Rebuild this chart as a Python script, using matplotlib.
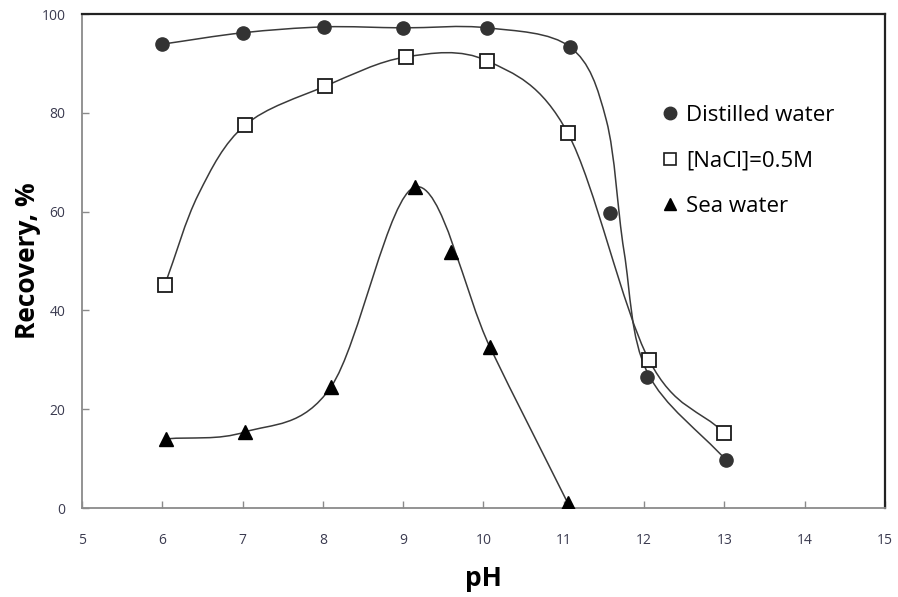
import numpy as np
import matplotlib
matplotlib.use("Agg")
import matplotlib.pyplot as plt
from matplotlib.path import Path
from matplotlib.patches import PathPatch
from matplotlib.lines import Line2D

plt.rcParams['font.family'] = ['Open Sans', 'DejaVu Sans']

# --- measured points ---
ph_distilled = [6.0, 7.0, 8.02, 9.0, 10.05, 11.08, 11.57, 12.04, 13.02]
rec_distilled = [93.9, 96.2, 97.4, 97.2, 97.2, 93.3, 59.7, 26.5, 9.7]

ph_nacl = [6.03, 7.03, 8.03, 9.03, 10.05, 11.05, 12.06, 13.0]
rec_nacl = [45.1, 77.5, 85.4, 91.3, 90.5, 75.9, 30.0, 15.2]

ph_sea = [6.05, 7.03, 8.1, 9.15, 9.6, 10.08, 11.05]
rec_sea = [14.0, 15.4, 24.5, 65.0, 51.8, 32.6, 1.0]

# --- knots of the smoothed trend lines ---
fit_x_distilled = [6.0, 7.0, 8.02, 9.0, 10.05, 11.08, 11.53, 11.75, 12.04, 13.02]
fit_y_distilled = [93.9, 96.2, 97.4, 97.2, 97.2, 93.3, 78.5, 52.0, 27.5, 9.7]

fit_x_nacl = [6.03, 6.45, 7.03, 8.03, 9.03, 10.05, 11.05, 12.06, 13.0]
fit_y_nacl = [45.1, 63.5, 77.5, 85.4, 91.3, 90.5, 75.9, 30.0, 15.2]

fit_x_sea = [6.05, 7.03, 8.1, 9.15, 10.08, 11.05]
fit_y_sea = [14.0, 15.4, 24.5, 65.0, 32.6, 1.0]

legend_labels = ['Distilled water', '[NaCl]=0.5M', 'Sea water']

LINE_COLOR = '#3a3a3a'


def smooth_path(xs, ys):
    # Catmull-Rom segments written as cubic Bezier curves (like spreadsheet smoothing)
    pts = np.column_stack([xs, ys]).astype(float)
    n = len(pts)
    verts = [pts[0]]
    codes = [Path.MOVETO]
    for i in range(n - 1):
        p1 = pts[i]
        p2 = pts[i + 1]
        p0 = pts[i - 1] if i > 0 else 2 * p1 - p2
        p3 = pts[i + 2] if i + 2 < n else 2 * p2 - p1
        c1 = p1 + (p2 - p0) / 6.0
        c2 = p2 - (p3 - p1) / 6.0
        verts += [c1, c2, p2]
        codes += [Path.CURVE4] * 3
    return Path(verts, codes)


fig = plt.figure(figsize=(8.98, 5.97), dpi=100)
ax = fig.add_axes([0.0913, 0.149, 0.8942, 0.8275])

for fx, fy in [(fit_x_distilled, fit_y_distilled),
               (fit_x_nacl, fit_y_nacl),
               (fit_x_sea, fit_y_sea)]:
    ax.add_patch(PathPatch(smooth_path(fx, fy), facecolor='none',
                           edgecolor=LINE_COLOR, linewidth=1.1, zorder=2))

ax.plot(ph_distilled, rec_distilled, linestyle='none', marker='o', markersize=9.5,
        markerfacecolor='#333333', markeredgecolor='#333333', zorder=4)
ax.plot(ph_nacl, rec_nacl, linestyle='none', marker='s', markersize=9.5,
        markerfacecolor='white', markeredgecolor='#1a1a1a', markeredgewidth=1.3, zorder=4)
ax.plot(ph_sea, rec_sea, linestyle='none', marker='^', markersize=10,
        markerfacecolor='black', markeredgecolor='black', zorder=4)

ax.set_xlim(5, 15)
ax.set_ylim(0, 100)
ax.set_xticks(range(5, 16))
ax.set_yticks(range(0, 101, 20))

ax.spines['left'].set_color('#8a8a8a')
ax.spines['bottom'].set_color('#8a8a8a')
ax.spines['left'].set_linewidth(1.3)
ax.spines['bottom'].set_linewidth(1.3)
ax.spines['top'].set_color('#222222')
ax.spines['right'].set_color('#222222')
ax.spines['top'].set_linewidth(1.6)
ax.spines['right'].set_linewidth(1.6)

ax.tick_params(axis='both', direction='in', length=5, width=1, color='#8a8a8a',
               labelsize=10, labelcolor='#3b3b50')
ax.tick_params(axis='x', pad=18)
ax.tick_params(axis='y', pad=12)

ax.set_xlabel('pH', fontsize=19, fontweight='bold', labelpad=12)
ax.set_ylabel('Recovery, %', fontsize=19, fontweight='bold', labelpad=0)

handles = [
    Line2D([], [], linestyle='none', marker='o', markersize=9,
           markerfacecolor='#333333', markeredgecolor='#333333'),
    Line2D([], [], linestyle='none', marker='s', markersize=8.5,
           markerfacecolor='white', markeredgecolor='#1a1a1a', markeredgewidth=1.2),
    Line2D([], [], linestyle='none', marker='^', markersize=8.5,
           markerfacecolor='black', markeredgecolor='black'),
]
ax.legend(handles, legend_labels, loc='upper left', bbox_to_anchor=(0.721, 0.816),
          frameon=False, fontsize=16, handlelength=0.8, handletextpad=0.35,
          labelspacing=1.1, borderaxespad=0, borderpad=0)

fig.savefig('out.png', dpi=100)
